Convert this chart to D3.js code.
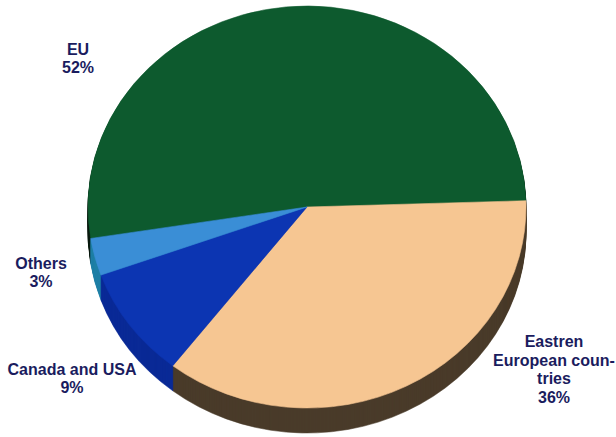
<!DOCTYPE html>
<html>
<head>
<meta charset="utf-8">
<script src="https://cdn.jsdelivr.net/npm/d3@7"></script>
<style>
  html, body { margin: 0; padding: 0; background: #ffffff; }
  svg { display: block; }
</style>
</head>
<body>
<svg id="chart" width="616" height="437"></svg>
<script>
// ---- data ----
const categories = ["EU", "Eastren European countries", "Canada and USA", "Others"];
const values = [52, 36, 9, 3];
const labelLines = [
  ["EU", "52%"],
  ["Eastren", "European coun-", "tries", "36%"],
  ["Canada and USA", "9%"],
  ["Others", "3%"]
];

// ---- styles / layout ----
const topColors  = ["#0d5a2e", "#f6c692", "#0c35b2", "#3a8ed6"];
const sideColors = ["#0b1a10", "#4a3b2a", "#0a2a96", "#1f7fa6"];
const labelAnchors = [
  { x: 78,  y: 54.5 },
  { x: 554, y: 347 },
  { x: 72,  y: 374.5 },
  { x: 41,  y: 268.5 }
];
const lineH = 18.6;

const cx = 307, cy = 207, rx = 219, ry = 201, depth = 25;
const startA = -99 * Math.PI / 180;

const svg = d3.select("#chart");

const pie = d3.pie().sort(null).value(d => d)
  .startAngle(startA).endAngle(startA + 2 * Math.PI);
const arcs = pie(values);
const arc = d3.arc().innerRadius(0).outerRadius(rx);
const k = ry / rx;

// side (extrusion) layers
const sideG = svg.append("g");
for (let i = depth; i >= 1; i--) {
  sideG.append("g")
    .attr("transform", `translate(${cx},${cy + i}) scale(1,${k})`)
    .selectAll("path")
    .data(arcs)
    .join("path")
    .attr("d", arc)
    .attr("fill", (d, j) => sideColors[j])
    .attr("stroke", (d, j) => sideColors[j])
    .attr("stroke-width", 0.6);
}

// top face
svg.append("g")
  .attr("transform", `translate(${cx},${cy}) scale(1,${k})`)
  .selectAll("path")
  .data(arcs)
  .join("path")
  .attr("d", arc)
  .attr("fill", (d, j) => topColors[j])
  .attr("stroke", (d, j) => topColors[j])
  .attr("stroke-width", 0.6);

// labels
const lg = svg.append("g")
  .attr("font-family", "'Liberation Sans', Arial, Helvetica, sans-serif")
  .attr("font-weight", "bold")
  .attr("font-size", "16px")
  .attr("fill", "#1a1c5e")
  .attr("text-anchor", "middle");

labelLines.forEach((lines, i) => {
  const t = lg.append("text")
    .attr("x", labelAnchors[i].x)
    .attr("y", labelAnchors[i].y);
  lines.forEach((ln, j) => {
    t.append("tspan")
      .attr("x", labelAnchors[i].x)
      .attr("y", labelAnchors[i].y + j * lineH)
      .text(ln);
  });
});
</script>
</body>
</html>
